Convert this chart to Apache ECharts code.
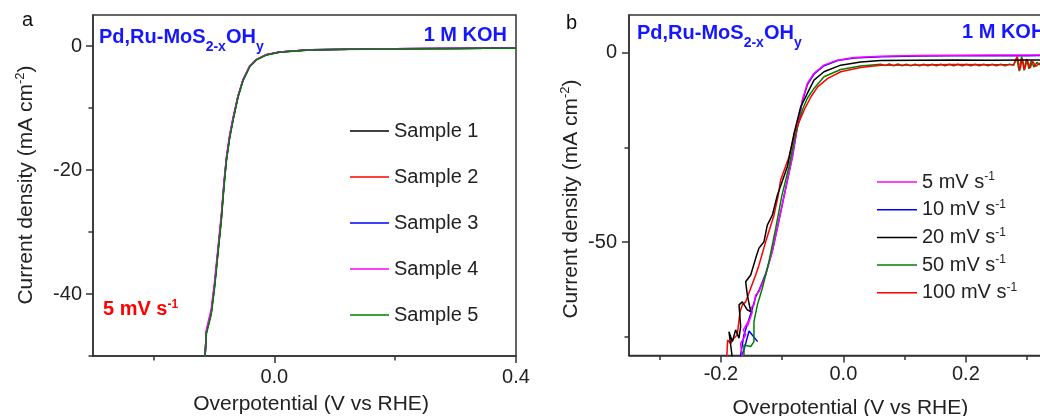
<!DOCTYPE html>
<html><head><meta charset="utf-8">
<script src="https://cdn.jsdelivr.net/npm/echarts@6/dist/echarts.min.js"></script>
<style>html,body{margin:0;padding:0;background:#fff}#c{width:1040px;height:416px}</style>
</head><body><div id="c"></div>
<script>
const FONT = '"Liberation Sans", Arial, Helvetica, sans-serif';
const BLUE_TXT = '#1717ff';
const AX = '#333';

// ---------- Panel a data ----------
const aX = [-0.1150, -0.1125, -0.1043, -0.0988, -0.0933, -0.0877, -0.0833, -0.0793, -0.0739, -0.0684, -0.0601, -0.0518, -0.0407, -0.0295, -0.0129, 0.0091, 0.0589, 0.10, 0.15, 0.20, 0.25, 0.30, 0.35, 0.40];
const aSample1 = [-51, -46.3, -43.0, -38.7, -33.3, -27.9, -22.5, -18.4, -14.7, -11.9, -8.2, -5.5, -3.3, -2.2, -1.4, -0.97, -0.62, -0.55, -0.50, -0.45, -0.42, -0.40, -0.37, -0.33];
const aSample2 = [-51, -46.2, -42.9, -38.6, -33.2, -27.8, -22.4, -18.3, -14.6, -11.9, -8.2, -5.5, -3.3, -2.2, -1.4, -0.98, -0.63, -0.56, -0.50, -0.46, -0.43, -0.40, -0.38, -0.34];
const aSample3 = [-51, -46.1, -42.8, -38.5, -33.1, -27.7, -22.3, -18.2, -14.6, -11.8, -8.1, -5.5, -3.3, -2.2, -1.4, -0.97, -0.62, -0.55, -0.49, -0.45, -0.42, -0.40, -0.37, -0.33];
const aSample4 = [-51, -45.8, -42.4, -38.0, -32.6, -27.2, -21.9, -17.9, -14.3, -11.6, -8.0, -5.4, -3.2, -2.15, -1.35, -0.95, -0.60, -0.52, -0.47, -0.43, -0.40, -0.38, -0.35, -0.31];
const aSample5 = [-51, -46.5, -43.3, -39.0, -33.6, -28.2, -22.8, -18.6, -14.9, -12.1, -8.3, -5.6, -3.35, -2.25, -1.45, -1.00, -0.65, -0.57, -0.52, -0.47, -0.44, -0.41, -0.38, -0.35];
const aNames = ['Sample 1', 'Sample 2', 'Sample 3', 'Sample 4', 'Sample 5'];
const aColors = ['#000000', '#ff0000', '#0000ff', '#ff00ff', '#008000'];
const aXMajorTicks = [0, 0.4];
const aXMinorTicks = [-0.2, 0.2];
const aYMajorTicks = [0, -20, -40];
const aYMinorTicks = [-10, -30, -50];

// ---------- Panel b data ----------
const b5X = [-0.1650, -0.1677, -0.1595, -0.1633, -0.1541, -0.1568, -0.1486, -0.1513, -0.1460, -0.1432, -0.1378, -0.1269, -0.1160, -0.1078, -0.0970, -0.0833, -0.0751, -0.0670, -0.0588, -0.0480, -0.0317, -0.0098, 0.0173, 0.0610, 0.12, 0.18, 0.24, 0.30, 0.36];
const b5Y = [-81.0, -76.8, -74.5, -73.2, -70.6, -72.3, -68.5, -67.5, -66.6, -64.0, -63.1, -58.7, -52.5, -46.4, -38.0, -27.5, -19.5, -12.5, -8.1, -5.4, -3.25, -1.93, -1.2, -0.87, -0.70, -0.65, -0.60, -0.60, -0.55];

const b10X = [-0.1400, -0.1540, -0.1623, -0.1690, -0.1623, -0.1513, -0.1432, -0.1370, -0.1265, -0.1155, -0.1075, -0.0968, -0.0830, -0.0748, -0.0668, -0.0585, -0.0478, -0.0315, -0.0095, 0.0175, 0.0610, 0.12, 0.18, 0.24, 0.30, 0.36];
const b10Y = [-76.3, -73.5, -78.5, -81.0, -74.5, -69.0, -64.5, -62.5, -58.2, -52.0, -46.0, -37.8, -27.3, -19.3, -12.6, -8.3, -5.6, -3.4, -2.05, -1.35, -1.0, -0.85, -0.80, -0.75, -0.75, -0.70];

const b20X = [-0.1810, -0.1868, -0.1813, -0.1759, -0.1704, -0.1677, -0.1704, -0.1650, -0.1568, -0.1513, -0.1568, -0.1595, -0.1513, -0.1432, -0.1378, -0.1296, -0.1242, -0.1160, -0.1078, -0.0915, -0.0806, -0.0697, -0.0588, -0.0480, -0.0317, -0.0044, 0.0282, 0.0610, 0.12, 0.18, 0.24, 0.30, 0.36];
const b20Y = [-81.0, -73.7, -76.3, -73.2, -75.4, -72.3, -66.6, -65.8, -67.9, -68.4, -64.0, -60.5, -58.7, -54.3, -51.6, -49.9, -45.5, -42.9, -37.6, -30.1, -21.3, -14.3, -10.7, -7.2, -5.0, -3.25, -2.4, -2.0, -1.95, -1.9, -1.95, -1.9, -1.85];

const b50X = [-0.1623, -0.1623, -0.1513, -0.1460, -0.1460, -0.1404, -0.1323, -0.1215, -0.1105, -0.1005, -0.0888, -0.0779, -0.0670, -0.0588, -0.0480, -0.0317, -0.0044, 0.0280, 0.0610,
  0.068, 0.075, 0.082, 0.089, 0.096, 0.103, 0.110, 0.117, 0.124, 0.131, 0.138, 0.145, 0.152, 0.159, 0.166, 0.173, 0.180, 0.187, 0.194, 0.201, 0.208, 0.215, 0.222, 0.229, 0.236, 0.243, 0.250, 0.257, 0.264, 0.271, 0.278,
  0.283, 0.287, 0.291, 0.295, 0.299, 0.303, 0.307, 0.311, 0.316, 0.322, 0.34, 0.36];
const b50Y = [-81.0, -77.2, -77.6, -76.3, -71.0, -66.6, -62.2, -55.2, -46.4, -37.8, -30.1, -21.3, -15.1, -12.0, -9.4, -6.3, -4.4, -3.5, -3.0,
  -3.35, -2.95, -3.4, -2.95, -3.4, -3.0, -3.45, -3.0, -3.45, -3.0, -3.45, -3.0, -3.45, -3.0, -3.45, -3.0, -3.45, -3.0, -3.45, -3.0, -3.45, -3.0, -3.4, -3.0, -3.4, -3.0, -3.4, -3.0, -3.4, -3.0, -3.3,
  -1.3, -4.8, -1.0, -4.6, -1.6, -4.2, -2.0, -3.8, -2.5, -3.3, -3.0, -3.0];

const b100X = [-0.1905, -0.1890, -0.1841, -0.1786, -0.1732, -0.1688, -0.1650, -0.1595, -0.1513, -0.1432, -0.1378, -0.1269, -0.1133, -0.1065, -0.1024, -0.0888, -0.0779, -0.0640, -0.0530, -0.0420, -0.0260, -0.0044, 0.0280, 0.0610, 0.12, 0.18, 0.24, 0.278, 0.284, 0.288, 0.292, 0.296, 0.300, 0.305, 0.309, 0.314, 0.320, 0.34, 0.36];
const b100Y = [-81.0, -75.9, -76.8, -75.4, -74.5, -68.4, -66.6, -65.8, -62.2, -58.7, -56.1, -49.9, -42.9, -37.8, -33.6, -27.5, -20.4, -15.1, -11.6, -9.0, -6.8, -5.0, -3.9, -3.25, -3.2, -3.1, -3.15, -3.1, -1.0, -4.6, -1.5, -4.4, -1.8, -4.0, -2.2, -3.6, -2.8, -3.1, -3.1];

const bNames = ['5 mV s-1', '10 mV s-1', '20 mV s-1', '50 mV s-1', '100 mV s-1'];
const bColors = ['#ff00ff', '#0000ff', '#000000', '#008000', '#ff0000'];
const bXMajorTicks = [-0.2, 0, 0.2];
const bXMinorTicks = [-0.3, -0.1, 0.1, 0.3];
const bYMajorTicks = [0, -50];
const bYMinorTicks = [-25, -75];

// ---------- helpers ----------
const pair = (xs, ys) => xs.map((x, i) => [x, ys[i]]);
function xMajor(g, min, max, ticks, margin, nameGap, padL) {
  return {type: 'value', gridIndex: g, position: 'bottom', min, max,
    name: 'Overpotential (V vs RHE)', nameLocation: 'middle', nameGap,
    nameTextStyle: {fontSize: 21, color: '#222', fontFamily: FONT, padding: [0, 0, 0, padL]},
    axisLine: {show: true, onZero: false, lineStyle: {color: AX, width: 1.5}},
    axisTick: {show: true, customValues: ticks, length: 7, lineStyle: {color: AX, width: 1.5}},
    axisLabel: {show: true, customValues: ticks, formatter: v => Number(v).toFixed(1), fontSize: 20, color: '#222', margin, fontFamily: FONT},
    splitLine: {show: false}};
}
function xMinor(g, min, max, ticks) {
  return {type: 'value', gridIndex: g, position: 'bottom', min, max,
    axisLine: {show: false, onZero: false},
    axisTick: {show: true, customValues: ticks, length: 4.5, lineStyle: {color: AX, width: 1.5}},
    axisLabel: {show: false}, splitLine: {show: false}};
}
function yMajor(g, min, max, ticks, margin) {
  return {type: 'value', gridIndex: g, position: 'left', min, max,
    axisLine: {show: true, onZero: false, lineStyle: {color: AX, width: 1.5}},
    axisTick: {show: true, customValues: ticks, length: 7, lineStyle: {color: AX, width: 1.5}},
    axisLabel: {show: true, customValues: ticks, fontSize: 20, color: '#222', margin, fontFamily: FONT},
    splitLine: {show: false}};
}
function yMinor(g, min, max, ticks) {
  return {type: 'value', gridIndex: g, position: 'left', min, max,
    axisLine: {show: false, onZero: false},
    axisTick: {show: true, customValues: ticks, length: 4.5, lineStyle: {color: AX, width: 1.5}},
    axisLabel: {show: false}, splitLine: {show: false}};
}
function line(name, color, data, xi, yi) {
  return {type: 'line', name, xAxisIndex: xi, yAxisIndex: yi, data, symbol: 'none', showSymbol: false,
    lineStyle: {color, width: 1.5}, itemStyle: {color}, animation: false, clip: true, silent: true};
}

const aSeriesY = [aSample1, aSample2, aSample3, aSample4, aSample5];
const seriesA = aNames.map((n, i) => line(n, aColors[i], pair(aX, aSeriesY[i]), 0, 0));
const bData = {
  '5 mV s-1': pair(b5X, b5Y), '10 mV s-1': pair(b10X, b10Y), '20 mV s-1': pair(b20X, b20Y),
  '50 mV s-1': pair(b50X, b50Y), '100 mV s-1': pair(b100X, b100Y)
};
const bDrawOrder = ['10 mV s-1', '5 mV s-1', '50 mV s-1', '100 mV s-1', '20 mV s-1'];
const seriesB = bDrawOrder.map(n => line(n, bColors[bNames.indexOf(n)], bData[n], 2, 2));

const titleRich = {
  a: {fontSize: 21, lineHeight: 24, fill: '#222', fontFamily: FONT},
  s: {fontSize: 13, lineHeight: 24, verticalAlign: 'top', fill: '#222', fontFamily: FONT}
};
const specRich = {
  m: {fontSize: 20, fontWeight: 'bold', lineHeight: 34, fill: BLUE_TXT, fontFamily: FONT},
  s: {fontSize: 14, fontWeight: 'bold', lineHeight: 34, verticalAlign: 'bottom', fill: BLUE_TXT, fontFamily: FONT}
};

const option = {
  animation: false,
  backgroundColor: '#ffffff',
  textStyle: {fontFamily: FONT},
  grid: [
    {left: 93, top: 15, width: 423, height: 341, show: true, borderColor: AX, borderWidth: 1.5, backgroundColor: 'transparent', containLabel: false, outerBoundsMode: 'none'},
    {left: 629, top: 15, width: 428.75, height: 340.6, show: true, borderColor: AX, borderWidth: 1.5, backgroundColor: 'transparent', containLabel: false, outerBoundsMode: 'none'}
  ],
  xAxis: [
    xMajor(0, -0.3, 0.4, aXMajorTicks, 11, 38, 13),
    xMinor(0, -0.3, 0.4, aXMinorTicks),
    xMajor(1, -0.35, 0.35, bXMajorTicks, 9, 42, 14),
    xMinor(1, -0.35, 0.35, bXMinorTicks)
  ],
  yAxis: [
    yMajor(0, -50, 5, aYMajorTicks, 11),
    yMinor(0, -50, 5, aYMinorTicks),
    yMajor(1, -80, 10, bYMajorTicks, 12),
    yMinor(1, -80, 10, bYMinorTicks)
  ],
  legend: [
    {data: aNames, orient: 'vertical', left: 345, top: 115, icon: 'rect', itemWidth: 39, itemHeight: 1.5, itemGap: 24, selectedMode: false,
      textStyle: {fontSize: 20, lineHeight: 22, color: '#222', fontFamily: FONT}},
    {data: bNames, orient: 'vertical', left: 872, top: 166, icon: 'rect', itemWidth: 40, itemHeight: 1.5, itemGap: 6.7, selectedMode: false,
      formatter: n => '{a|' + n.replace(' s-1', '') + ' s}{s|-1}',
      textStyle: {fontSize: 20, color: '#222', fontFamily: FONT,
        rich: {a: {fontSize: 20, lineHeight: 22, color: '#222', fontFamily: FONT},
               s: {fontSize: 12, lineHeight: 22, verticalAlign: 'top', color: '#222', fontFamily: FONT}}}}
  ],
  graphic: [
    {type: 'text', x: 22, y: 20, silent: true, style: {text: 'a', fontSize: 20, fontFamily: FONT, fill: '#111', verticalAlign: 'middle'}},
    {type: 'text', x: 566, y: 23, silent: true, style: {text: 'b', fontSize: 20, fontFamily: FONT, fill: '#111', verticalAlign: 'middle'}},
    {type: 'text', x: 99, y: 20, silent: true, style: {text: '{m|Pd,Ru-MoS}{s|2-x}{m|OH}{s|y}', rich: specRich, verticalAlign: 'top', align: 'left'}},
    {type: 'text', x: 507, y: 18.5, silent: true, style: {text: '{m|1 M KOH}', rich: specRich, verticalAlign: 'top', align: 'right'}},
    {type: 'text', x: 637, y: 16, silent: true, style: {text: '{m|Pd,Ru-MoS}{s|2-x}{m|OH}{s|y}', rich: specRich, verticalAlign: 'top', align: 'left'}},
    {type: 'text', x: 962, y: 15.5, silent: true, style: {text: '{m|1 M KOH}', rich: specRich, verticalAlign: 'top', align: 'left'}},
    {type: 'text', x: 103, y: 298.6, silent: true, style: {text: '{m|5 mV s}{p|-1}', verticalAlign: 'top', align: 'left',
      rich: {m: {fontSize: 20, fontWeight: 'bold', lineHeight: 22, fill: '#ff0000', fontFamily: FONT},
             p: {fontSize: 12, fontWeight: 'bold', lineHeight: 22, verticalAlign: 'top', fill: '#ff0000', fontFamily: FONT}}}},
    {type: 'text', x: 26, y: 185, rotation: Math.PI / 2, silent: true, style: {text: '{a|Current density (mA cm}{s|-2}{a|)}', rich: titleRich, align: 'center', verticalAlign: 'middle'}},
    {type: 'text', x: 571, y: 199, rotation: Math.PI / 2, silent: true, style: {text: '{a|Current density (mA cm}{s|-2}{a|)}', rich: titleRich, align: 'center', verticalAlign: 'middle'}}
  ],
  series: seriesA.concat(seriesB)
};

const chart = echarts.init(document.getElementById('c'), null, {renderer: 'canvas', width: 1040, height: 416});
chart.setOption(option);
</script>
</body></html>
